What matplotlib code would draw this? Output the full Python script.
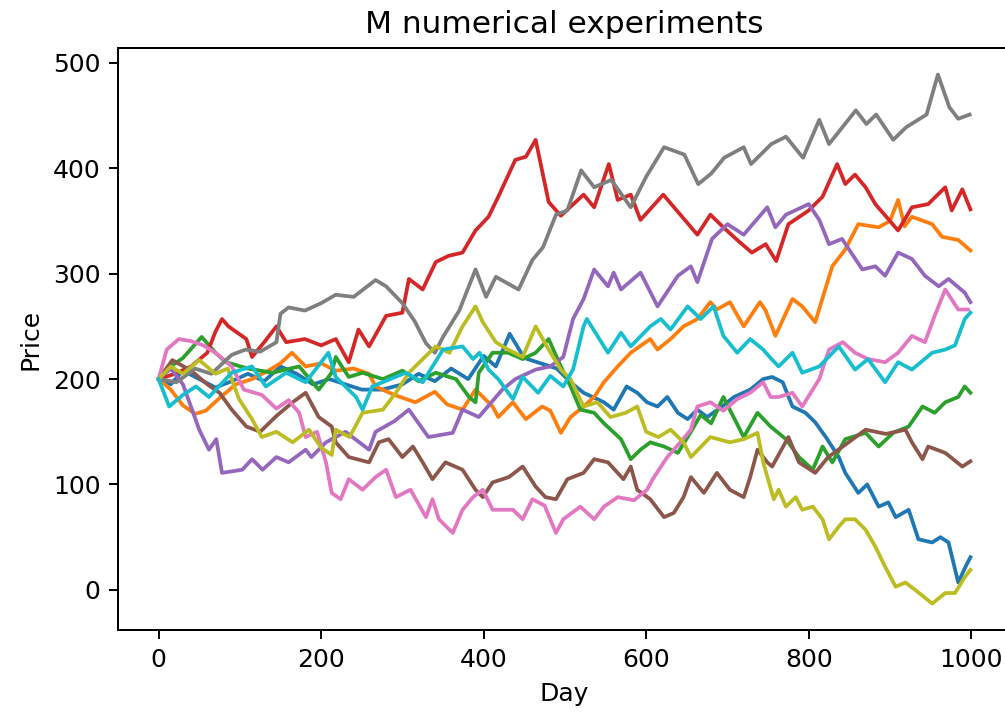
import matplotlib
matplotlib.use("Agg")
import matplotlib.pyplot as plt

# ogni simulazione ha i suoi giorni campionati e i relativi prezzi
giorni_blu = [0, 15, 30, 50, 70, 90, 110, 130, 150, 170, 190, 210, 230, 250, 275, 300, 320, 340, 360, 381,
              400, 415, 432, 450, 470, 490, 507, 523, 548, 560, 576, 589, 601, 614, 626, 639, 651, 663, 675,
              690, 708, 728, 744, 755, 768, 780, 796, 808, 821, 837, 845, 861, 872, 886, 898, 907, 923, 935,
              952, 962, 972, 984, 993, 999]
prezzi_blu = [200, 195, 208, 200, 192, 198, 205, 198, 212, 205, 195, 200, 195, 190, 190, 195, 205, 198, 210, 200,
              222, 212, 243, 220, 215, 210, 197, 187, 178, 171, 193, 187, 178, 174, 183, 168, 162, 171, 164,
              172, 183, 190, 200, 202, 197, 174, 168, 159, 145, 126, 111, 92, 100, 79, 83, 69, 76, 48,
              45, 50, 45, 7, 22, 31]

giorni_arancio = [0, 15, 30, 45, 58, 75, 95, 115, 135, 150, 164, 181, 200, 218, 240, 259, 267, 290, 316, 340,
                  355, 374, 390, 411, 418, 436, 452, 472, 482, 495, 507, 523, 536, 548, 565, 581, 605, 614,
                  630, 646, 663, 679, 687, 703, 720, 740, 747, 759, 780, 792, 808, 829, 845, 861, 886, 900,
                  910, 918, 927, 952, 964, 984, 999]
prezzi_arancio = [200, 190, 175, 167, 170, 182, 195, 200, 208, 215, 225, 212, 215, 208, 210, 205, 193, 185, 178, 188,
                  176, 171, 190, 174, 164, 178, 162, 174, 170, 149, 164, 174, 183, 197, 212, 225, 238, 228,
                  238, 250, 257, 273, 266, 273, 250, 273, 265, 241, 276, 269, 254, 307, 323, 347, 344, 350,
                  370, 345, 354, 347, 335, 332, 322]

giorni_verde = [0, 15, 30, 53, 70, 83, 110, 140, 173, 197, 213, 218, 234, 251, 276, 300, 320, 341, 366, 382,
                390, 394, 411, 430, 448, 464, 480, 495, 507, 519, 536, 548, 569, 581, 593, 605, 622, 639, 655,
                667, 680, 695, 720, 737, 753, 772, 788, 805, 817, 829, 845, 870, 886, 904, 923, 940, 955, 968,
                984, 992, 999]
prezzi_verde = [200, 212, 220, 240, 225, 216, 210, 206, 212, 190, 206, 221, 202, 206, 200, 208, 198, 206, 200, 183,
                178, 206, 225, 225, 219, 225, 238, 212, 193, 171, 168, 158, 143, 124, 133, 140, 136, 130, 150,
                166, 158, 183, 145, 168, 155, 143, 126, 114, 136, 121, 143, 149, 136, 149, 155, 174, 168, 178,
                183, 193, 187]

giorni_rosso = [0, 20, 40, 60, 70, 78, 86, 108, 115, 130, 145, 157, 180, 200, 218, 234, 246, 259, 280, 300,
                308, 325, 341, 357, 374, 390, 406, 418, 439, 452, 464, 480, 495, 523, 536, 554, 565, 581, 593,
                621, 642, 663, 679, 695, 712, 730, 747, 760, 775, 800, 817, 835, 845, 857, 870, 882, 910, 927,
                947, 968, 976, 989, 999]
prezzi_rosso = [200, 205, 212, 225, 245, 257, 250, 238, 221, 235, 250, 235, 238, 232, 238, 216, 247, 231, 260, 263,
                295, 285, 311, 317, 320, 341, 354, 373, 408, 411, 427, 368, 355, 375, 363, 404, 370, 375, 351,
                375, 356, 337, 356, 344, 332, 320, 328, 312, 347, 360, 373, 404, 385, 394, 382, 366, 341, 363,
                366, 382, 360, 380, 361]

giorni_viola = [0, 15, 30, 50, 62, 71, 78, 103, 115, 128, 145, 160, 181, 188, 206, 230, 259, 267, 290, 308,
                332, 362, 374, 394, 423, 439, 464, 482, 498, 510, 523, 536, 553, 560, 569, 593, 614, 639, 655,
                663, 681, 700, 720, 749, 759, 772, 800, 813, 825, 841, 866, 882, 894, 910, 927, 943, 960, 972,
                992, 999]
prezzi_viola = [200, 210, 195, 152, 133, 143, 111, 114, 124, 114, 126, 121, 133, 126, 140, 150, 133, 150, 160, 171,
                145, 149, 171, 164, 190, 200, 209, 212, 221, 257, 276, 304, 288, 301, 285, 301, 269, 298, 307,
                292, 333, 347, 337, 363, 344, 356, 366, 351, 328, 333, 304, 307, 298, 320, 314, 298, 288, 295,
                282, 273]

giorni_marrone = [0, 17, 40, 60, 75, 90, 108, 125, 145, 165, 181, 197, 213, 218, 234, 259, 271, 283, 300, 313,
                  325, 337, 353, 374, 390, 399, 411, 431, 448, 464, 476, 489, 503, 523, 536, 553, 572, 581, 589,
                  605, 622, 634, 646, 655, 671, 687, 703, 720, 728, 737, 749, 755, 775, 788, 808, 824, 849, 870,
                  895, 919, 927, 940, 947, 968, 989, 999]
prezzi_marrone = [200, 218, 208, 195, 187, 171, 155, 150, 165, 178, 187, 164, 155, 140, 126, 121, 140, 143, 126, 136,
                  121, 105, 121, 114, 95, 88, 102, 107, 117, 98, 88, 86, 105, 111, 124, 121, 105, 117, 95,
                  86, 69, 73, 88, 107, 92, 111, 95, 88, 107, 133, 121, 117, 145, 121, 111, 126, 140, 152,
                  148, 152, 140, 124, 136, 130, 117, 122]

giorni_rosa = [0, 10, 25, 40, 55, 70, 90, 105, 127, 145, 160, 173, 181, 195, 206, 213, 224, 234, 251, 267,
               280, 292, 310, 329, 337, 345, 362, 374, 387, 399, 411, 436, 448, 460, 475, 489, 498, 519, 536,
               548, 565, 585, 601, 608, 626, 642, 655, 663, 679, 695, 712, 728, 744, 753, 763, 780, 792, 813,
               825, 842, 857, 873, 894, 910, 927, 943, 955, 968, 984, 996]
prezzi_rosa = [200, 228, 238, 236, 232, 225, 212, 190, 185, 172, 180, 168, 145, 150, 121, 92, 86, 105, 95, 107,
               114, 88, 95, 69, 86, 67, 54, 76, 88, 95, 76, 76, 67, 86, 80, 54, 67, 79, 67,
               79, 88, 85, 95, 105, 126, 140, 152, 174, 178, 170, 181, 187, 197, 183, 183, 187, 174, 200,
               228, 235, 225, 219, 216, 225, 241, 235, 260, 285, 266, 266]

giorni_grigio = [0, 22, 45, 65, 90, 107, 125, 145, 150, 160, 180, 200, 218, 240, 267, 280, 300, 315, 329, 340,
                 350, 370, 390, 403, 415, 443, 460, 473, 489, 503, 520, 536, 557, 581, 600, 622, 647, 664, 680,
                 696, 720, 729, 754, 772, 793, 813, 825, 858, 871, 883, 904, 920, 945, 959, 973, 984, 998]
prezzi_grigio = [200, 197, 210, 205, 223, 228, 226, 235, 262, 268, 265, 272, 280, 278, 294, 288, 272, 255, 234, 225,
                 240, 265, 304, 278, 297, 285, 313, 325, 356, 360, 398, 382, 389, 363, 392, 420, 413, 385, 395,
                 410, 420, 404, 423, 430, 410, 446, 423, 455, 442, 451, 427, 439, 451, 489, 458, 447, 451]

giorni_oliva = [0, 15, 30, 50, 70, 85, 99, 115, 127, 145, 165, 185, 200, 213, 218, 235, 251, 276, 292, 308,
                325, 341, 358, 374, 390, 399, 415, 430, 448, 464, 480, 495, 507, 523, 540, 556, 575, 589, 600,
                615, 630, 646, 655, 679, 703, 720, 737, 744, 757, 763, 772, 784, 792, 805, 817, 825, 837, 845,
                857, 870, 882, 894, 907, 919, 931, 952, 968, 980, 992, 999]
prezzi_oliva = [200, 212, 205, 218, 205, 210, 181, 162, 145, 150, 140, 152, 135, 128, 152, 145, 168, 171, 187, 206,
                219, 231, 225, 250, 269, 254, 235, 228, 221, 250, 228, 209, 200, 174, 178, 164, 168, 174, 150,
                145, 152, 140, 126, 145, 140, 143, 149, 121, 86, 95, 79, 88, 76, 79, 67, 48, 60, 67,
                67, 57, 41, 22, 3, 7, 0, -13, -3, -3, 12, 19]

giorni_ciano = [0, 13, 30, 46, 62, 90, 115, 132, 157, 181, 209, 218, 243, 251, 263, 285, 304, 325, 350, 374,
                387, 395, 406, 418, 436, 448, 467, 482, 498, 510, 523, 527, 553, 569, 581, 605, 618, 630, 651,
                667, 683, 695, 712, 728, 744, 753, 763, 780, 792, 813, 837, 857, 873, 894, 910, 927, 952, 968,
                980, 992, 999]
prezzi_ciano = [200, 174, 185, 193, 183, 206, 212, 193, 206, 197, 225, 202, 183, 171, 193, 200, 206, 197, 228, 231,
                219, 225, 209, 200, 181, 202, 187, 203, 193, 209, 250, 257, 225, 244, 231, 250, 257, 247, 269,
                257, 269, 241, 225, 238, 228, 220, 212, 225, 206, 212, 231, 209, 219, 197, 216, 209, 225, 228,
                232, 257, 263]

esperimenti = [
    (giorni_blu, prezzi_blu),
    (giorni_arancio, prezzi_arancio),
    (giorni_verde, prezzi_verde),
    (giorni_rosso, prezzi_rosso),
    (giorni_viola, prezzi_viola),
    (giorni_marrone, prezzi_marrone),
    (giorni_rosa, prezzi_rosa),
    (giorni_grigio, prezzi_grigio),
    (giorni_oliva, prezzi_oliva),
    (giorni_ciano, prezzi_ciano),
]

fig = plt.figure(figsize=(1005 / 180, 717 / 180), dpi=180)
ax = fig.add_axes([0.1174, 0.1213, 0.8886, 0.8117])

for giorni, prezzi in esperimenti:
    ax.plot(giorni, prezzi)

ax.set_title('M numerical experiments', fontsize=12.5)
ax.set_xlabel('Day')
ax.set_ylabel('Price')
ax.set_xticks([0, 200, 400, 600, 800, 1000])
ax.set_yticks([0, 100, 200, 300, 400, 500])

fig.savefig('out.png', dpi=180)
